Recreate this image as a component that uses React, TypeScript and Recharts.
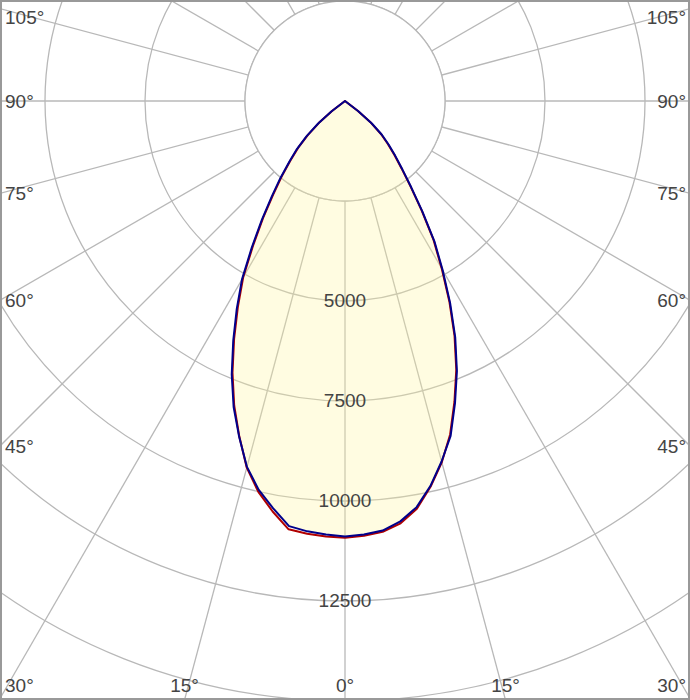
import { PolarAngleAxis, PolarGrid, PolarRadiusAxis, Radar, RadarChart } from 'recharts';

const W = 690;
const H = 700;
const CX = 345;
const CY = 101;

// polar angle from nadir (deg) for the values below; past 55° the curve sits on the centre
const thetaSteps = [0, 2.5, 5, 7.5, 10, 12.5, 15, 17.5, 20, 22.5, 25, 27.5, 30, 32.5, 35, 37.5, 40, 42.5, 45, 47.5, 50, 52.5, 55];

// C0 / C180 plane (red), cd
const redRight = [10920, 10880, 10810, 10650, 10350, 9880, 9350, 8740, 8000, 7270, 6480, 5650, 4840, 4120, 3340, 2690, 2200, 1830, 1510, 1220, 850, 400, 0];
const redLeft = [10920, 10900, 10860, 10800, 10420, 10010, 9490, 8790, 8100, 7350, 6560, 5800, 5090, 4270, 3570, 2950, 2460, 2020, 1660, 1270, 850, 400, 0];

// C90 / C270 plane (blue), cd
const blueRight = [10890, 10850, 10780, 10600, 10310, 9860, 9330, 8780, 8040, 7310, 6520, 5690, 4880, 4160, 3370, 2720, 2230, 1860, 1540, 1250, 875, 420, 0];
const blueLeft = [10890, 10850, 10800, 10720, 10340, 9960, 9470, 8800, 8140, 7400, 6610, 5860, 5150, 4330, 3620, 3000, 2510, 2060, 1700, 1300, 875, 430, 0];

const radiusMax = 20000;
const hubValue = 2500;
const labelStep = 15;
const labelMax = 105;

const gammas = Array.from({ length: 144 }, (_, i) => i * 2.5);

// the chart runs clockwise from the bottom, so gamma 0..180 lies on the left half
const pick = (right: number[], left: number[], gamma: number) => {
  const onLeft = gamma <= 180;
  const theta = onLeft ? gamma : 360 - gamma;
  const idx = thetaSteps.indexOf(theta);
  return idx < 0 ? 0 : (onLeft ? left : right)[idx];
};

const rows = gammas.map((gamma) => ({
  gamma,
  red: pick(redRight, redLeft, gamma),
  blue: pick(blueRight, blueLeft, gamma),
  hub: hubValue,
}));

const spokeAngles = Array.from({ length: 360 / labelStep }, (_, k) => -90 + k * labelStep);

const textStyle = { fontFamily: '"Liberation Sans", Arial, sans-serif', fontSize: 19, fill: '#444' };

const AngleTick = (props: any) => {
  const gamma = Number(props.payload?.value);
  const theta = gamma <= 180 ? gamma : 360 - gamma;
  if (theta % labelStep !== 0 || theta > labelMax) return <g />;
  const a = ((270 - gamma) * Math.PI) / 180;
  const dx = Math.cos(a);
  const dy = -Math.sin(a);
  const tx = dx > 1e-9 ? (W - CX) / dx : dx < -1e-9 ? -CX / dx : Infinity;
  const ty = dy > 1e-9 ? (H - CY) / dy : dy < -1e-9 ? -CY / dy : Infinity;
  let x: number;
  let y: number;
  let anchor: 'start' | 'middle' | 'end';
  if (tx <= ty) {
    x = dx > 0 ? W - 4 : 5;
    anchor = dx > 0 ? 'end' : 'start';
    y = Math.min(Math.max(CY + tx * dy, 17), H - 15);
  } else {
    x = CX + ty * dx;
    y = H - 15;
    anchor = 'middle';
  }
  return (
    <text x={x} y={y} textAnchor={anchor} dominantBaseline="central" {...textStyle}>
      {`${theta}°`}
    </text>
  );
};

const RadiusTick = (props: any) => {
  const v = Number(props.payload?.value);
  if (v < 5000 || v > 12500) return <g />;
  return (
    <text x={props.x} y={props.y} dy={-0.5} textAnchor="middle" dominantBaseline="central" {...textStyle}>
      {v}
    </text>
  );
};

export default function App() {
  return (
    <div
      style={{
        position: 'absolute',
        left: 0,
        top: 0,
        width: W,
        height: H,
        overflow: 'hidden',
        background: '#fff',
        pointerEvents: 'none',
      }}
    >
      <RadarChart
        width={W}
        height={H}
        data={rows}
        cx={CX}
        cy={CY}
        outerRadius={800}
        startAngle={270}
        endAngle={-90}
        margin={{ top: 0, right: 0, bottom: 0, left: 0 }}
      >
        <PolarGrid gridType="circle" polarAngles={spokeAngles} stroke="#b8b8b8" strokeWidth={1.3} />
        <PolarAngleAxis dataKey="gamma" axisLine={false} tickLine={false} tick={AngleTick} />
        <PolarRadiusAxis
          angle={-90}
          type="number"
          domain={[0, radiusMax]}
          tickCount={9}
          axisLine={false}
          tick={RadiusTick}
        />
        <Radar dataKey="hub" stroke="#b8b8b8" strokeWidth={1.3} fill="#fff" fillOpacity={1} isAnimationActive={false} dot={false} activeDot={false} />
        <Radar dataKey="blue" stroke="none" fill="#fff59a" fillOpacity={0.3} isAnimationActive={false} dot={false} activeDot={false} />
        <Radar dataKey="red" stroke="#b00000" strokeWidth={2} fill="none" strokeLinejoin="round" isAnimationActive={false} dot={false} activeDot={false} />
        <Radar dataKey="blue" stroke="#00008b" strokeWidth={2} fill="none" strokeLinejoin="round" isAnimationActive={false} dot={false} activeDot={false} />
      </RadarChart>
      <div
        style={{
          position: 'absolute',
          left: 0,
          top: 0,
          width: W,
          height: H,
          boxSizing: 'border-box',
          border: '2px solid #999',
          pointerEvents: 'none',
        }}
      />
    </div>
  );
}
